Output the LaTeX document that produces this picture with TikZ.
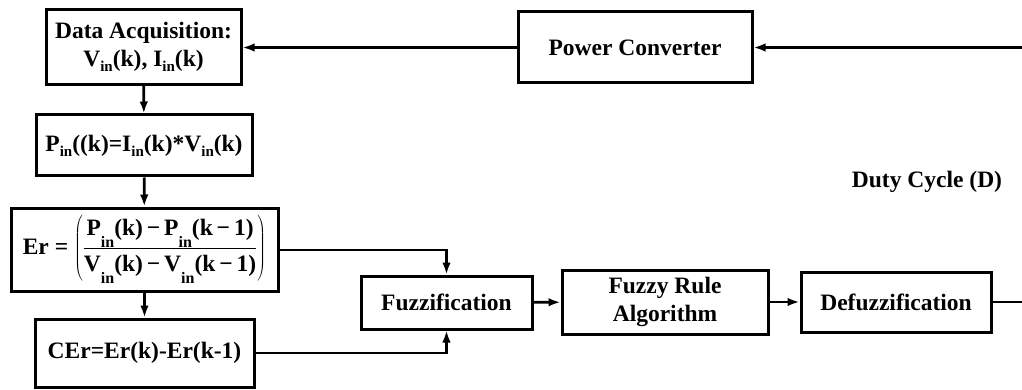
\documentclass[tikz,border=0pt]{standalone}
\usepackage{fontspec}
\setmainfont{Liberation Serif}
\usetikzlibrary{arrows.meta}
\newcommand\sbi{\raisebox{-0.22em}{\fontsize{15}{15}\selectfont in}}
\newcommand\sbl{\raisebox{-0.5em}{\fontsize{16}{16}\selectfont in}}
\begin{document}
\begin{tikzpicture}[x=1pt,y=-1pt,
  font=\fontsize{23.5}{28}\selectfont\bfseries,
  box/.style={draw, line width=3pt, inner sep=0pt, align=center},
  conn/.style={line width=2.8pt},
  arr/.style={conn, -{Latex[length=12pt,width=8.5pt]}}]
\useasboundingbox (0,0) rectangle (1022,390);
\node[box, minimum width=195pt, minimum height=75pt] (da) at (143.5,47)
  {Data Acquisition:\\V\sbi(k), I\sbi(k)};
\node[box, minimum width=216pt, minimum height=61pt] (pin) at (144,145.5)
  {P\sbi((k)=I\sbi(k)*V\sbi(k)};
\node[box, minimum width=267pt, minimum height=83pt] (er) at (144.5,249.5)
  {Er = $\displaystyle\left({\hbox{P\sbl(k)\,−\,P\sbl(k\,−\,1)}\over\hbox{V\sbl(k)\,−\,V\sbl(k\,−\,1)}}\right)$};
\node[box, minimum width=219pt, minimum height=68pt] (cer) at (144.5,353)
  {CEr=Er(k)-Er(k-1)};
\node[box, minimum width=171pt, minimum height=53pt] (fuz) at (446.5,302.5) {Fuzzification};
\node[box, minimum width=206pt, minimum height=64pt] (fra) at (665,302) {Fuzzy Rule\\Algorithm};
\node[box, minimum width=190pt, minimum height=60pt] (def) at (896,302) {Defuzzification};
\node[box, minimum width=234pt, minimum height=71pt] (pc) at (635,47.5) {Power Converter};
\node (duty) at (927,182) {Duty Cycle (D)};
\coordinate (rb) at (1024,302);
\coordinate (rt) at (1024,47.5);
\draw[arr] (da) -- (pin);
\draw[arr] (pin) -- (er);
\draw[arr] (er) -- (cer);
\draw[arr] (er.east |- 0,250) -| (fuz.north);
\draw[arr] (cer.east) -| (fuz.south);
\draw[arr] (fuz) -- (fra);
\draw[arr] (fra) -- (def);
\draw[line width=2pt] (def.east) -- (rb);
\draw[arr] (rt) -- (pc.east);
\draw[arr] (pc.west) -- (pc.west -| da.east);
\end{tikzpicture}
\end{document}
